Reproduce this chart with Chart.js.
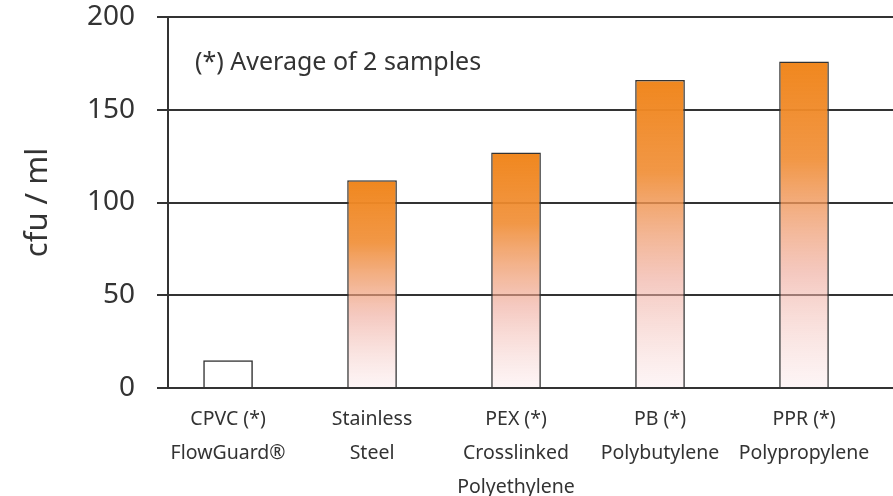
<!DOCTYPE html>
<html>
<head>
<meta charset="utf-8">
<script src="https://cdn.jsdelivr.net/npm/chart.js@4"></script>
<style>
  html, body { margin: 0; padding: 0; background: #fff; }
  #wrap { width: 893px; height: 496px; position: relative; }
</style>
</head>
<body>
<div id="wrap"><canvas id="chartCanvas"></canvas></div>
<script>
(() => {
'use strict';

const categories = [
    ['CPVC (*)', 'FlowGuard®'],
    ['Stainless', 'Steel'],
    ['PEX (*)', 'Crosslinked', 'Polyethylene'],
    ['PB (*)', 'Polybutylene'],
    ['PPR (*)', 'Polypropylene']
];
const cfuValues = [15, 112, 127, 166, 176];
const yTicks = [0, 50, 100, 150, 200];
const note = '(*) Average of 2 samples';

const FONT = '"Noto Sans", Lato, sans-serif';
const INK = '#333';

// orange on top fading to pale pink at the base, per bar (short bars stay white)
function barFill(ctx) {
    const chart = ctx.chart;
    const area = chart.chartArea;
    if (!area || ctx.raw == null) return '#f08a24';
    const y = chart.scales.y;
    const top = y.getPixelForValue(ctx.raw.y);
    const bottom = y.getPixelForValue(0);
    const k = Math.max(0, Math.min(1, (ctx.raw.y - 20) / 60));
    const g = chart.ctx.createLinearGradient(0, top, 0, bottom);
    g.addColorStop(0, `rgba(240,135,30,${k})`);
    g.addColorStop(0.3, `rgba(240,140,50,${0.9 * k})`);
    g.addColorStop(0.65, `rgba(238,165,150,${0.6 * k})`);
    g.addColorStop(1, `rgba(250,230,232,${0.4 * k})`);
    return g;
}

const notePlugin = {
    id: 'note',
    afterDraw(chart) {
        const { ctx, chartArea } = chart;
        ctx.save();
        ctx.font = `25px ${FONT}`;
        ctx.fillStyle = INK;
        ctx.textBaseline = 'middle';
        ctx.fillText(note, chartArea.left + 27, chartArea.top + 46);
        ctx.restore();
    }
};

new Chart(document.getElementById('chartCanvas'), {
    type: 'bar',
    data: {
        datasets: [{
            data: cfuValues.map((v, i) => ({ x: i, y: v })),
            backgroundColor: barFill,
            borderColor: INK,
            borderWidth: 1.5,
            barPercentage: 1,
            categoryPercentage: 0.345
        }]
    },
    plugins: [notePlugin],
    options: {
        responsive: true,
        maintainAspectRatio: false,
        animation: false,
        layout: { padding: { top: 17, left: 0, right: 0, bottom: 0 } },
        plugins: {
            legend: { display: false },
            tooltip: { enabled: false }
        },
        scales: {
            x: {
                type: 'linear',
                offset: false,
                min: -0.417,
                max: 4.618,
                afterFit: s => { s.height = 108; },
                grid: { display: false, drawTicks: false },
                border: { display: true, color: INK, width: 2 },
                ticks: {
                    stepSize: 1,
                    includeBounds: false,
                    autoSkip: false,
                    maxRotation: 0,
                    padding: 14,
                    color: INK,
                    font: { family: FONT, size: 19.5, lineHeight: 1.75 },
                    callback: v => Number.isInteger(v) && categories[v] ? categories[v] : ''
                }
            },
            y: {
                min: 0,
                max: 200,
                afterBuildTicks: s => { s.ticks = yTicks.map(v => ({ value: v })); },
                afterFit: s => { s.width = 168; s.paddingTop = 0; },
                grid: { color: INK, lineWidth: 2, tickLength: 11 },
                border: { display: true, color: INK, width: 2 },
                ticks: {
                    padding: 22,
                    color: INK,
                    font: { family: FONT, size: 28, lineHeight: 1.2 }
                },
                title: {
                    display: true,
                    text: 'cfu / ml',
                    color: INK,
                    font: { family: FONT, size: 31 },
                    padding: { top: 20, bottom: 0 }
                }
            }
        }
    }
});
})();
</script>
</body>
</html>
